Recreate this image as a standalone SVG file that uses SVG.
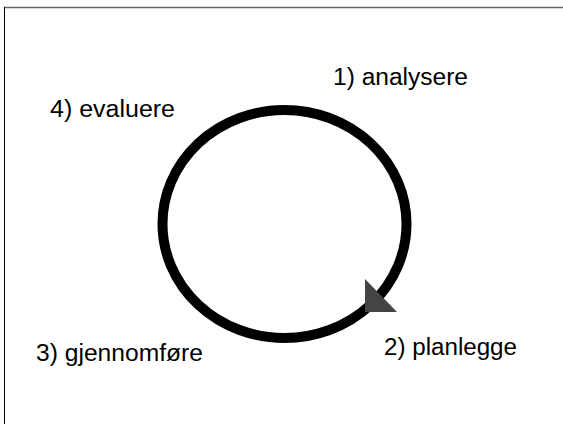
<svg xmlns="http://www.w3.org/2000/svg" width="563" height="424" viewBox="0 0 563 424">
<style>
.lbl{font-family:"Liberation Sans",Arial,Helvetica,sans-serif;font-size:23.5px;fill:#000}
.ring{fill:none;stroke:#000;stroke-width:10}
.head{fill:#444}
</style>
<rect x="0" y="0" width="563" height="424" fill="#fff"/>
<line x1="4" y1="7.5" x2="563" y2="7.5" stroke="#666" stroke-width="1.5"/>
<line x1="4.5" y1="7" x2="4.5" y2="424" stroke="#000" stroke-width="1"/>
<g id="connectors">
<ellipse class="ring" cx="284.5" cy="224" rx="122" ry="114"/>
<polygon class="head" points="365,279 365,312 397,312"/>
</g>
<g id="n1"><text class="lbl" x="333" y="85" textLength="135" lengthAdjust="spacingAndGlyphs">1) analysere</text></g>
<g id="n2"><text class="lbl" x="384" y="355" textLength="133" lengthAdjust="spacingAndGlyphs">2) planlegge</text></g>
<g id="n3"><text class="lbl" x="36" y="361" textLength="167" lengthAdjust="spacingAndGlyphs">3) gjennomføre</text></g>
<g id="n4"><text class="lbl" x="50" y="117" textLength="125" lengthAdjust="spacingAndGlyphs">4) evaluere</text></g>
</svg>
